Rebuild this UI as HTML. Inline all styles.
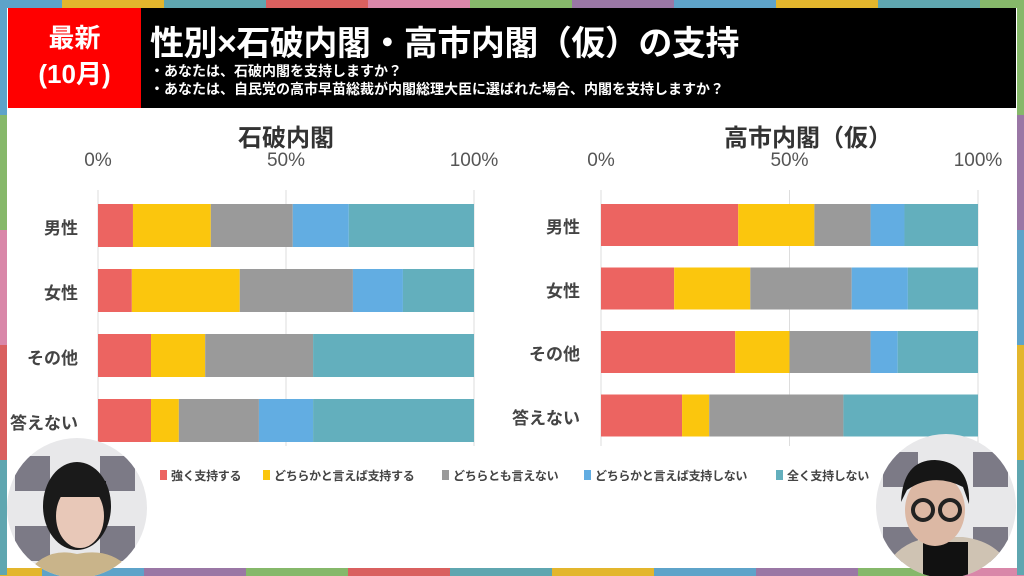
<!DOCTYPE html>
<html><head><meta charset="utf-8">
<style>
body{margin:0;width:1024px;height:576px;overflow:hidden;background:#fff;font-family:"Liberation Sans","Noto Sans CJK JP",sans-serif;position:relative}
.abs{position:absolute}
.lab{position:absolute;font-weight:bold;color:#444;font-size:17px;text-align:right;width:70px}
.tick{position:absolute;font-size:19px;color:#555;transform:translateX(-50%)}
.ttl{position:absolute;font-size:24px;font-weight:bold;color:#333;transform:translateX(-50%)}
.leg{position:absolute;top:467px;font-size:12px;color:#444;font-weight:bold;white-space:nowrap;letter-spacing:-0.3px}
.leg i{display:inline-block;width:7px;height:10px;margin-right:4px;vertical-align:0}
</style></head><body>
<div class="abs" style="left:8px;top:8px;width:1008px;height:100px;background:#000"></div>
<div class="abs" style="left:8px;top:8px;width:133px;height:100px;background:#f00;color:#fff;font-weight:bold;font-size:26px;text-align:center;line-height:36px;padding-top:12px;box-sizing:border-box">最新<br>(10月)</div>
<div class="abs" style="left:150px;top:16px;color:#fff;font-weight:bold;font-size:34px;letter-spacing:-0.5px">性別×石破内閣・高市内閣（仮）の支持</div>
<div class="abs" style="left:150px;top:62px;color:#fff;font-weight:bold;font-size:14px;line-height:18px">・あなたは、石破内閣を支持しますか？<br>・あなたは、自民党の高市早苗総裁が内閣総理大臣に選ばれた場合、内閣を支持しますか？</div>
<svg class="abs" id="chart" style="left:0;top:0" width="1024" height="576"></svg>
<div class="leg" style="left:160px"><i style="background:#ec6461"></i>強く支持する</div>
<div class="leg" style="left:263px"><i style="background:#fbc60d"></i>どちらかと言えば支持する</div>
<div class="leg" style="left:442px"><i style="background:#9a9a9a"></i>どちらとも言えない</div>
<div class="leg" style="left:584px"><i style="background:#62ade2"></i>どちらかと言えば支持しない</div>
<div class="leg" style="left:776px"><i style="background:#63afbd"></i>全く支持しない</div>
<div class="ttl" style="left:286px;top:118px">石破内閣</div>
<div class="ttl" style="left:808px;top:118px">高市内閣（仮）</div>
<svg class="abs" style="left:5px;top:436px" width="146" height="140">
<clipPath id="c1"><ellipse cx="72" cy="72" rx="70" ry="70"/></clipPath>
<g clip-path="url(#c1)"><rect width="146" height="140" fill="#e8e8ea"/>
<rect x="10" y="20" width="35" height="35" fill="#7c7a86"/><rect x="95" y="20" width="35" height="35" fill="#7c7a86"/><rect x="10" y="90" width="35" height="35" fill="#7c7a86"/><rect x="95" y="90" width="35" height="35" fill="#7c7a86"/>
<ellipse cx="72" cy="70" rx="34" ry="44" fill="#1a1a1a"/><ellipse cx="75" cy="80" rx="24" ry="32" fill="#e8c8b8"/><rect x="45" y="45" width="56" height="16" fill="#1a1a1a"/>
<path d="M20 140 Q40 110 72 118 Q110 110 130 140Z" fill="#c9b48a"/></g></svg>
<svg class="abs" style="left:873px;top:432px" width="146" height="144">
<clipPath id="c2"><ellipse cx="73" cy="74" rx="70" ry="72"/></clipPath>
<g clip-path="url(#c2)"><rect width="146" height="144" fill="#e8e8ea"/>
<rect x="10" y="20" width="35" height="35" fill="#7c7a86"/><rect x="100" y="20" width="35" height="35" fill="#7c7a86"/><rect x="10" y="95" width="35" height="35" fill="#7c7a86"/><rect x="100" y="95" width="35" height="35" fill="#7c7a86"/>
<path d="M10 144 Q20 110 60 105 L90 105 Q130 110 140 144Z" fill="#cfc3b3"/><rect x="50" y="110" width="45" height="34" fill="#111"/>
<ellipse cx="62" cy="78" rx="30" ry="36" fill="#dcb8a4"/><path d="M28 70 Q30 28 62 28 Q98 30 96 72 L90 55 Q60 40 34 58Z" fill="#161616"/>
<circle cx="50" cy="78" r="10" fill="none" stroke="#222" stroke-width="4"/><circle cx="77" cy="78" r="10" fill="none" stroke="#222" stroke-width="4"/></g></svg>
<script>
const NS='http://www.w3.org/2000/svg';
const svg=document.getElementById('chart');
const categories=['男性','女性','その他','答えない'];
const seriesNames=['強く支持する','どちらかと言えば支持する','どちらとも言えない','どちらかと言えば支持しない','全く支持しない'];
const colors=['#ec6461','#fbc60d','#9a9a9a','#62ade2','#63afbd'];
const tickLabels=['0%','50%','100%'];
const tickValues=[0,50,100];
const ishiba=[[9.3,20.7,21.8,14.9,33.3],[9.0,28.7,30.1,13.3,18.9],[14.1,14.4,28.7,0,42.8],[14.1,7.4,21.3,14.4,42.8]];
const takaichi=[[36.4,20.2,14.9,9.0,19.5],[19.4,20.2,26.9,14.9,18.6],[35.6,14.4,21.5,7.2,21.3],[21.5,7.2,35.6,0,35.7]];
function mk(t,a){const e=document.createElementNS(NS,t);for(const k in a)e.setAttribute(k,a[k]);svg.appendChild(e);return e;}
function draw(data,x0,w,yTop,pitch,bh,labX,prefix){
  const xs=v=>x0+v/100*w;
  tickValues.forEach((t,i)=>{
    const g=mk('line',{x1:xs(t),x2:xs(t),y1:190,y2:446,stroke:'#ddd','stroke-width':1});
    
    
    const d=document.createElement('div');d.className='tick';d.style.left=xs(t)+'px';d.style.top='150px';d.textContent=tickLabels[i];
    
    
    document.body.appendChild(d);
  });
  categories.forEach((c,r)=>{
    const y=yTop+r*pitch;let acc=0;
    data[r].forEach((v,s)=>{
      const rc=mk('rect',{x:xs(acc),y:y,width:Math.max(0,xs(acc+v)-xs(acc)),height:bh,fill:colors[s]});
      
      
      acc+=v;
    });
    const l=document.createElement('div');l.className='lab';l.style.left=labX+'px';l.style.top=(y+bh/2-12)+'px';l.textContent=c;
    
    
    document.body.appendChild(l);
  });
}
draw(ishiba,98,376,204,65,43,8,'ishiba');
draw(takaichi,601,377,204,63.5,42,510,'takaichi');
const topColors=['#5ea3c9','#e3b62d','#5fa6b0','#d9605f','#d987a9','#86b86a','#9a77a5','#5ea3c9','#e3b62d','#5fa6b0','#86b86a'];
const botColors=['#e3b62d','#5ea3c9','#9a77a5','#86b86a','#d9605f','#5fa6b0','#e3b62d','#5ea3c9','#9a77a5','#86b86a','#d987a9'];
topColors.forEach((c,i)=>{const r=mk('rect',{x:-40+i*102,y:0,width:102,height:8,fill:c});

});
botColors.forEach((c,i)=>{const r=mk('rect',{x:-60+i*102,y:568,width:102,height:8,fill:c});

});
['#5ea3c9','#86b86a','#d987a9','#d9605f','#5fa6b0'].forEach((c,i)=>{const r=mk('rect',{x:0,y:i*115,width:7,height:115,fill:c});

});
['#86b86a','#9a77a5','#5ea3c9','#e3b62d','#5fa6b0'].forEach((c,i)=>{const r=mk('rect',{x:1017,y:i*115,width:7,height:115,fill:c});

});
</script>
</body></html>
